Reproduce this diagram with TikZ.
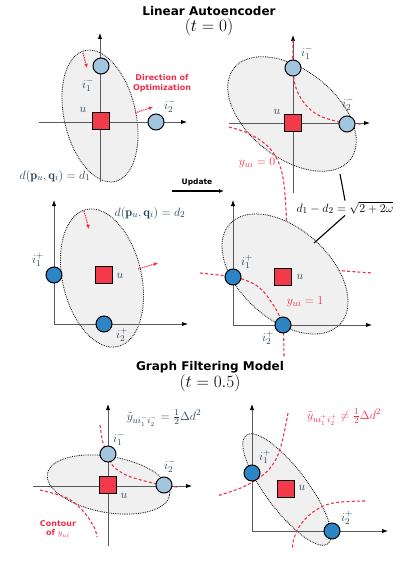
\documentclass[tikz,border=0pt]{standalone}
\usepackage{fontspec}
\newfontfamily\sansb{DejaVu Sans}
\usetikzlibrary{arrows.meta}
\definecolor{lblue}{HTML}{A3C6E0}
\definecolor{dblue}{HTML}{2D85C5}
\definecolor{sqred}{HTML}{F23A4B}
\definecolor{cred}{HTML}{F0304A}
\definecolor{labc}{HTML}{2B4457}
\definecolor{ellfill}{HTML}{F0F0F0}
\begin{document}
\begin{tikzpicture}[x=1pt,y=-1pt,
 axis/.style={draw=black!65, line width=0.9pt, -{Latex[length=6pt,width=4.5pt,black]}},
 ell/.style={fill=ellfill, draw=black, densely dotted, line width=0.8pt},
 itemlo/.style={circle, draw=black, line width=1pt, fill=lblue, minimum size=16pt, inner sep=0pt},
 itemhi/.style={circle, draw=black, line width=1pt, fill=dblue, minimum size=16pt, inner sep=0pt},
 user/.style={rectangle, draw=black, line width=1pt, fill=sqred, minimum size=16.5pt, inner sep=0pt},
 lab/.style={text=labc, font=\fontsize{12.5}{14}\selectfont, inner sep=1pt},
 redlab/.style={text=cred, font=\fontsize{12.5}{14}\selectfont, inner sep=1pt},
 contour/.style={draw=cred, dash pattern=on 3pt off 2.2pt, line width=1.1pt},
 optarrow/.style={draw=cred, densely dotted, line width=1.2pt, -{Latex[length=4pt,width=4pt,fill=cred]}},
 redtxt/.style={text=cred, font=\sansb\bfseries\fontsize{8}{9.5}\selectfont, align=center, inner sep=1pt},
 ttl/.style={font=\sansb\bfseries\fontsize{12}{14}\selectfont, inner sep=1pt},
 ttlm/.style={font=\fontsize{16}{18}\selectfont, inner sep=1pt},
 annot/.style={draw=black, line width=1.1pt}
]
\useasboundingbox (0,0) rectangle (415,577);

% ---------- titles ----------
\node[ttl] (t1) at (209,11) {Linear Autoencoder};
\node[ttlm] (t1b) at (209,27) {$(t=0)$};
\node[ttl] (t2) at (210,367) {Graph Filtering Model};
\node[ttlm] (t2b) at (210,383) {$(t=0.5)$};

% ================= Panel 1 =================
\draw[ell, rotate around={13:(100,116)}] (100,116) ellipse [x radius=35.8, y radius=67.2];
\coordinate (p1o) at (39,122); \coordinate (p1x) at (187,122);
\coordinate (p1b) at (100,182); \coordinate (p1y) at (100,33);
\draw[axis] (p1o) -- (p1x);
\draw[axis] (p1b) -- (p1y);
\coordinate (a1s) at (83,53); \coordinate (a1e) at (87,68);
\coordinate (a2s) at (135,113); \coordinate (a2e) at (153,107);
\draw[optarrow] (a1s) -- (a1e);
\draw[optarrow] (a2s) -- (a2e);
\node[user] (u1) at (101,121) {};
\node[itemlo] (p1i1) at (101,66) {};
\node[itemlo] (p1i2) at (156,122) {};
\node[lab] (l1i1) at (88,85) {$i_1^-$};
\node[lab] (l1u) at (83,110) {$u$};
\node[lab] (l1i2) at (170,106) {$i_2^-$};
\node[redtxt] (dir) at (162,83.5) {Direction of\\Optimization};
\node[lab] (d1lab) at (55,176) {$d(\mathbf{p}_u,\mathbf{q}_i)=d_1$};

% ================= Panel 2 =================
\draw[ell, rotate around={-38:(292,114)}] (292,114) ellipse [x radius=74, y radius=44];
\coordinate (p2o) at (229,123); \coordinate (p2x) at (370,123);
\coordinate (p2b) at (293,193); \coordinate (p2y) at (293,35);
\draw[axis] (p2o) -- (p2x);
\draw[axis] (p2b) -- (p2y);
\draw[contour] plot[smooth, tension=0.6] coordinates {(293,40) (293,68) (296,88) (305,104) (318,115) (335,121) (347,123.5) (362,124)};
\draw[contour] plot[smooth, tension=0.6] coordinates {(229,127) (245,132) (260,140) (272,151) (280,166) (284,184) (286,210) (288,237) (296,254) (312,265) (335,270) (373,273)};
\node[user] (u2) at (293,123) {};
\node[itemlo] (p2i1) at (293,68) {};
\node[itemlo] (p2i2) at (347,124) {};
\node[lab] (l2i1) at (307,53) {$i_1^-$};
\node[lab] (l2i2) at (348,104) {$i_2^-$};
\node[lab] (l2u) at (277,112) {$u$};
\node[redlab] (y0) at (257,163) {$y_{ui}=0$};

% ---------- update arrow ----------
\node[font=\sansb\bfseries\fontsize{7.5}{9}\selectfont, inner sep=1pt] (upd) at (197,182.5) {Update};
\coordinate (ua) at (172,191); \coordinate (ub) at (224,191);
\draw[line width=1.2pt, -{Latex[length=5pt,width=4pt]}] (ua) -- (ub);

% ================= Panel 3 =================
\draw[ell, rotate around={13:(102,278)}] (102,278) ellipse [x radius=39.4, y radius=70.3];
\coordinate (p3o) at (54,324); \coordinate (p3x) at (188,324);
\coordinate (p3y) at (54,200);
\draw[axis] (p3o) -- (p3x);
\draw[axis] (p3o) -- (p3y);
\coordinate (a3s) at (84,211); \coordinate (a3e) at (89,229);
\coordinate (a4s) at (138,269); \coordinate (a4e) at (158,263);
\draw[optarrow] (a3s) -- (a3e);
\draw[optarrow] (a4s) -- (a4e);
\node[user] (u3) at (104,275) {};
\node[itemhi] (p3i1) at (54,275) {};
\node[itemhi] (p3i2) at (104,324) {};
\node[lab] (l3i1) at (38,260) {$i_1^+$};
\node[lab] (l3u) at (120,276) {$u$};
\node[lab] (l3i2) at (122,335) {$i_2^+$};
\node[lab] (d2lab) at (150,213) {$d(\mathbf{p}_u,\mathbf{q}_i)=d_2$};

% ================= Panel 4 =================
\draw[ell, rotate around={-42:(285,274)}] (285,274) ellipse [x radius=74.5, y radius=45];
\coordinate (p4o) at (233,325); \coordinate (p4x) at (372,325);
\coordinate (p4y) at (233,200);
\draw[axis] (p4o) -- (p4x);
\draw[axis] (p4o) -- (p4y);
\draw[contour] plot[smooth, tension=0.6] coordinates {(200,273) (233,277) (250,282) (262,290) (272,303) (279,315) (283,325) (284,357)};
\node[user] (u4) at (283,277) {};
\node[itemhi] (p4i1) at (233,277) {};
\node[itemhi] (p4i2) at (283,325) {};
\node[lab] (l4i1) at (247,262) {$i_1^+$};
\node[lab] (l4u) at (300,277) {$u$};
\node[lab] (l4i2) at (268,338) {$i_2^+$};
\node[redlab] (y1) at (305,302) {$y_{ui}=1$};

% ---------- annotation ----------
\node[lab, text=black] (dd) at (345,208) {$d_1-d_2=\sqrt{2+2\omega}$};
\coordinate (e2pt) at (340,174);
\coordinate (e4pt) at (314,243);
\draw[annot] (e2pt) -- (dd.north);
\draw[annot] (dd.south) -- (e4pt);

% ================= Panel 5 =================
\draw[ell, rotate around={-10:(108.5,484.5)}] (108.5,484.5) ellipse [x radius=62, y radius=28];
\coordinate (p5o) at (33,486); \coordinate (p5x) at (192,486);
\coordinate (p5b) at (108,546); \coordinate (p5y) at (108,404);
\draw[axis] (p5o) -- (p5x);
\draw[axis] (p5b) -- (p5y);
\draw[contour] plot[smooth, tension=0.6] coordinates {(100,425) (103,443) (108,454) (113,466) (126,475) (141,480) (157,484) (164,485.5) (177,487)};
\draw[contour] plot[smooth, tension=0.6] coordinates {(40,490) (67,498) (83,511) (94,527) (97,537)};
\node[user] (u5) at (108,485) {};
\node[itemlo] (p5i1) at (108,454) {};
\node[itemlo] (p5i2) at (164,485) {};
\node[lab] (l5i1) at (119,439) {$i_1^-$};
\node[lab] (l5i2) at (170,466) {$i_2^-$};
\node[lab] (l5u) at (124,496) {$u$};
\node[lab] (ytl) at (164,418) {$\tilde{y}_{ui_1^-i_2^-}=\frac{1}{2}\Delta d^2$};
\node[redtxt] (cont) at (58,529) {Contour\\of \normalfont$y_{ui}$};

% ================= Panel 6 =================
\draw[ell, rotate around={-53:(287,489.5)}] (287,489.5) ellipse [x radius=68, y radius=21];
\coordinate (p6o) at (252,531); \coordinate (p6x) at (388,531);
\coordinate (p6y) at (252,404);
\draw[axis] (p6o) -- (p6x);
\draw[axis] (p6o) -- (p6y);
\draw[contour] plot[smooth, tension=0.6] coordinates {(288,413) (282,442) (275,461) (263,475) (243,487) (217,496)};
\draw[contour] plot[smooth, tension=0.6] coordinates {(365,501) (333,503) (313,512) (299,527) (293,542) (293,550)};
\node[user] (u6) at (286,489) {};
\node[itemhi] (p6i1) at (252,473) {};
\node[itemhi] (p6i2) at (332,531) {};
\node[lab] (l6i1) at (265,457) {$i_1^+$};
\node[lab] (l6u) at (302,488) {$u$};
\node[lab] (l6i2) at (347,518) {$i_2^+$};
\node[redlab] (ytr) at (344,417) {$\tilde{y}_{ui_1^+i_2^+}\neq\frac{1}{2}\Delta d^2$};
\end{tikzpicture}
\end{document}
